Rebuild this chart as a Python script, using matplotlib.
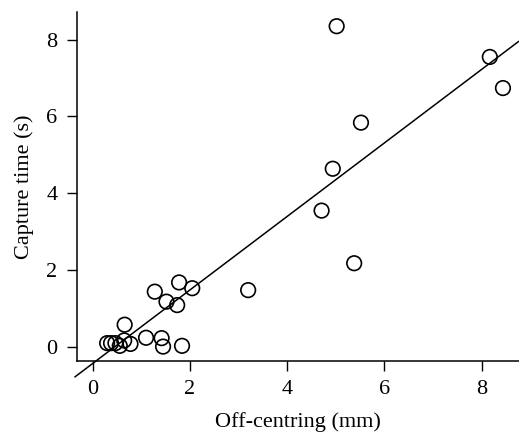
import matplotlib.pyplot as plt
import numpy as np

# off-centring (mm) and capture time (s)
off_centring = [0.30, 0.38, 0.47, 0.56, 0.65, 0.78, 0.66, 1.10, 1.42, 1.45, 1.84,
                1.28, 1.52, 1.74, 1.78, 2.05, 3.20, 4.71, 5.38, 4.94, 5.52,
                5.02, 8.17, 8.44]
capture_time = [0.10, 0.10, 0.10, 0.03, 0.17, 0.08, 0.58, 0.24, 0.23, 0.01, 0.03,
                1.44, 1.18, 1.09, 1.68, 1.53, 1.48, 3.55, 2.18, 4.64, 5.84,
                8.35, 7.55, 6.74]

# regression line
slope = 0.957
intercept = -0.432
line_x = [-0.36, 8.76]

plt.rcParams['font.family'] = ['Liberation Serif', 'DejaVu Serif']

fig = plt.figure(figsize=(5.19, 4.33), dpi=100)
ax = fig.add_axes([77 / 519, 72 / 433, 442 / 519, 349 / 433])

ax.scatter(off_centring, capture_time, s=110, facecolors='none',
           edgecolors='black', linewidths=1.2, zorder=3)

lx = np.array(line_x)
ax.plot(lx, slope * lx + intercept, color='black', lw=1.1, clip_on=False)

ax.set_xlim(-0.32, 8.77)
ax.set_ylim(-0.365, 8.72)
ax.set_xticks([0, 2, 4, 6, 8])
ax.set_yticks([0, 2, 4, 6, 8])

ax.spines['top'].set_visible(False)
ax.spines['right'].set_visible(False)
for s in ['left', 'bottom']:
    ax.spines[s].set_linewidth(1.1)

ax.tick_params(direction='out', length=7, width=1.0, labelsize=16, pad=7)

ax.set_xlabel('Off-centring (mm)', fontsize=16, labelpad=9)
ax.set_ylabel('Capture time (s)', fontsize=16, labelpad=9)

fig.savefig('out.png', dpi=100)
